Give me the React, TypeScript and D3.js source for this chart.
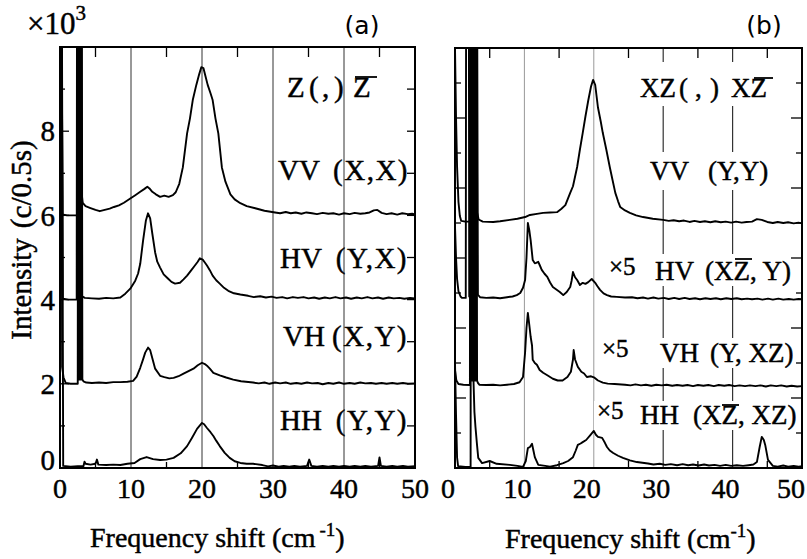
import React from "react";
import * as d3 from "d3";

type Pt = [number, number];

// ---------- panel (a): Z( , )Z̄ geometry, intensity in 10^3 counts per 0.5 s ----------
const xTickValues = [0, 10, 20, 30, 40, 50];
const aYTickLabels = [0, 2, 4, 6, 8];

const aVV: Pt[] = [
  [0.2, 12], [0.35, 6.02], [1.0, 6.0], [2.4, 6.0], [2.45, 12], [2.9, 12], [3.0, 6.6], [3.2, 6.3],
  [3.6, 6.22], [4.2, 6.18], [5.0, 6.13], [5.6, 6.1], [6.3, 6.13], [7.0, 6.16], [7.6, 6.2], [8.3, 6.24],
  [9.0, 6.3], [9.9, 6.4], [10.6, 6.48], [11.3, 6.56], [11.9, 6.63], [12.3, 6.68], [12.6, 6.64],
  [13.0, 6.56], [13.5, 6.5], [14.1, 6.44], [14.7, 6.47], [15.3, 6.44], [15.9, 6.48], [16.3, 6.55],
  [16.8, 6.75], [17.3, 7.14], [17.9, 7.95], [18.3, 8.3], [18.7, 8.74], [19.2, 9.1], [19.6, 9.35],
  [19.9, 9.52], [20.2, 9.5], [20.5, 9.3], [20.8, 9.1], [21.2, 8.9], [21.5, 8.74], [21.9, 8.3],
  [22.3, 7.95], [22.8, 7.14], [23.3, 6.8], [24.0, 6.5], [24.6, 6.38], [25.4, 6.29], [26.3, 6.22],
  [27.5, 6.17], [28.8, 6.11], [30.3, 6.07], [31.0, 6.05], [31.8, 6.08], [32.5, 6.05], [33.2, 6.07],
  [34.0, 6.04], [34.7, 6.07], [35.5, 6.05], [36.2, 6.03], [37.0, 6.06], [37.8, 6.04], [38.5, 6.05],
  [39.3, 6.02], [40.0, 6.05], [40.8, 6.03], [41.5, 6.06], [42.3, 6.04], [43.0, 6.05], [43.6, 6.07],
  [44.2, 6.12], [44.7, 6.13], [45.3, 6.06], [46.0, 6.03], [46.7, 6.05], [47.5, 6.02], [48.2, 6.05],
  [49.0, 6.03], [49.6, 6.04], [50.0, 6.02],
];

const aHV: Pt[] = [
  [0.2, 12], [0.4, 4.02], [1.2, 4.0], [2.35, 4.0], [2.4, 12], [3.0, 12], [3.1, 4.08], [3.5, 4.04],
  [4.5, 4.03], [5.5, 4.02], [6.5, 4.04], [7.5, 4.03], [8.5, 4.05], [9.2, 4.14], [9.9, 4.26],
  [10.6, 4.45], [11.0, 4.62], [11.3, 4.85], [11.7, 5.4], [12.1, 5.88], [12.4, 6.05], [12.7, 5.93],
  [13.0, 5.57], [13.4, 5.12], [13.7, 4.9], [14.1, 4.76], [14.6, 4.6], [15.2, 4.5], [15.7, 4.42],
  [16.2, 4.38], [16.9, 4.4], [17.4, 4.48], [17.9, 4.57], [18.5, 4.7], [19.0, 4.81], [19.4, 4.9],
  [19.7, 4.98], [20.1, 4.95], [20.4, 4.88], [20.7, 4.81], [21.1, 4.7], [21.5, 4.57], [22.0, 4.46],
  [22.5, 4.38], [23.1, 4.28], [23.7, 4.21], [24.5, 4.15], [25.4, 4.12], [26.5, 4.09], [27.3, 4.06],
  [28.2, 4.08], [29.0, 4.05], [29.8, 4.07], [30.5, 4.04], [31.3, 4.06], [32.0, 4.03], [32.8, 4.06],
  [33.5, 4.04], [34.3, 4.06], [35.0, 4.03], [35.8, 4.05], [36.5, 4.02], [37.3, 4.05], [38.0, 4.03],
  [38.8, 4.06], [39.5, 4.03], [40.3, 4.05], [41.0, 4.02], [41.8, 4.05], [42.5, 4.03], [43.3, 4.06],
  [44.0, 4.03], [44.8, 4.05], [45.5, 4.02], [46.3, 4.05], [47.0, 4.03], [47.8, 4.04], [48.5, 4.02],
  [49.3, 4.04], [50.0, 4.03],
];

// the plasma-line group near 2.5-3 cm^-1 is a bundle of narrow lines
const aVH: Pt[] = [
  [0.2, 12], [0.3, 2.4], [0.5, 2.15], [0.8, 2.02], [1.5, 2.0], [2.5, 2.0], [2.55, 13], [2.68, 2.1],
  [2.72, 13], [2.85, 2.1], [2.89, 13], [3.02, 2.1], [3.06, 13], [3.15, 2.1], [3.3, 2.06], [3.7, 2.03],
  [4.5, 2.02], [5.5, 2.03], [6.5, 2.02], [7.5, 2.04], [8.5, 2.04],
  [9.5, 2.05], [10.3, 2.07], [10.8, 2.17], [11.3, 2.38], [11.7, 2.58], [12.0, 2.74], [12.4, 2.86],
  [12.7, 2.8], [12.9, 2.67], [13.4, 2.36], [14.1, 2.19], [14.7, 2.16], [15.4, 2.13], [16.0, 2.14],
  [16.7, 2.18], [17.4, 2.24], [18.1, 2.3], [18.8, 2.36], [19.4, 2.44], [20.0, 2.5], [20.4, 2.47],
  [20.7, 2.43], [21.1, 2.36], [21.6, 2.26], [22.5, 2.2], [23.4, 2.15], [24.4, 2.1], [25.5, 2.06],
  [27.2, 2.03], [28.0, 2.01], [28.8, 2.03], [29.5, 2.0], [30.3, 2.03], [31.0, 2.01], [31.8, 2.03],
  [32.5, 2.0], [33.3, 2.02], [34.0, 2.0], [34.8, 2.03], [35.5, 2.01], [36.3, 2.02], [37.0, 1.99],
  [37.8, 2.02], [38.5, 2.0], [39.3, 2.03], [40.0, 2.0], [40.8, 2.02], [41.5, 2.0], [42.3, 2.03],
  [43.0, 2.01], [43.8, 2.02], [44.5, 2.0], [45.3, 2.02], [46.0, 2.0], [46.8, 2.02], [47.5, 2.0],
  [48.3, 2.02], [49.0, 2.0], [50.0, 2.01],
];

const aHH: Pt[] = [
  [0.25, 12], [0.45, 0.05], [1.5, 0.03], [2.5, 0.04], [3.3, 0.04], [3.45, 0.15], [3.6, 0.1],
  [4.3, 0.08], [5.0, 0.1], [5.2, 0.2], [5.4, 0.08], [6.5, 0.07], [7.5, 0.08], [8.5, 0.07],
  [9.5, 0.1], [10.5, 0.12], [11.3, 0.21], [12.2, 0.26], [13.1, 0.21], [14.1, 0.19], [15.0, 0.2],
  [16.0, 0.24], [17.0, 0.35], [17.9, 0.52], [18.6, 0.72], [19.3, 0.93], [20.0, 1.07], [20.3, 1.04],
  [20.7, 0.95], [21.2, 0.85], [21.6, 0.76], [22.0, 0.65], [22.5, 0.52], [23.2, 0.36], [23.9, 0.24],
  [24.6, 0.16], [25.4, 0.12], [26.3, 0.1], [27.2, 0.1], [28.5, 0.07], [29.3, 0.04], [30.0, 0.06],
  [30.8, 0.03], [31.5, 0.05], [32.3, 0.03], [33.0, 0.05], [33.8, 0.03], [34.8, 0.05], [35.1, 0.2],
  [35.4, 0.05], [36.2, 0.03], [37.0, 0.05], [37.8, 0.03], [38.5, 0.05], [39.3, 0.03], [40.0, 0.05],
  [40.8, 0.03], [41.5, 0.05], [42.3, 0.03], [43.0, 0.05], [43.8, 0.03], [44.8, 0.05], [45.0, 0.25],
  [45.2, 0.05], [46.0, 0.03], [46.8, 0.05], [47.5, 0.03], [48.3, 0.05], [49.0, 0.03], [50.0, 0.04],
];

// ---------- panel (b): XZ( , )XZ̄ geometry, offset traces ----------
const bVV: Pt[] = [
  [0.0, 12], [0.15, 10.0], [0.3, 8.6], [0.5, 7.6], [0.7, 7.2], [0.9, 7.06], [1.5, 7.04], [2.35, 7.04],
  [2.4, 13], [3.1, 13], [3.2, 7.3], [3.4, 7.1], [4.0, 7.04], [5.5, 7.03], [6.5, 7.05], [7.9, 7.09],
  [9.0, 7.12], [10.1, 7.17], [10.8, 7.23], [11.8, 7.26], [12.7, 7.29], [13.7, 7.3], [14.7, 7.31],
  [15.3, 7.4], [15.9, 7.51], [16.6, 7.86], [17.0, 8.05], [17.6, 8.6], [18.0, 9.1], [18.4, 9.57],
  [18.8, 10.05], [19.2, 10.5], [19.6, 10.9], [19.9, 11.09], [20.2, 10.95], [20.6, 10.3], [21.0, 9.9],
  [21.3, 9.57], [21.8, 9.1], [22.3, 8.6], [22.7, 8.23], [23.1, 7.86], [23.5, 7.62], [23.8, 7.46],
  [24.5, 7.36], [25.2, 7.29], [26.1, 7.22], [27.1, 7.17], [28.5, 7.12], [30.0, 7.09], [30.8, 7.06],
  [31.5, 7.08], [32.3, 7.05], [33.0, 7.07], [33.8, 7.03], [34.5, 7.06], [35.3, 7.03], [36.0, 7.05],
  [36.8, 7.02], [37.5, 7.05], [38.3, 7.02], [39.0, 7.04], [39.8, 7.01], [40.5, 7.04], [41.3, 7.01],
  [42.0, 7.03], [42.8, 7.04], [43.5, 7.11], [44.2, 7.09], [45.0, 7.03], [45.8, 7.0], [46.5, 7.03],
  [47.3, 7.0], [48.0, 7.02], [48.8, 6.99], [49.5, 7.01], [50.0, 6.99],
];

const bHV: Pt[] = [
  [0.0, 6.9], [0.15, 6.0], [0.3, 5.4], [0.5, 5.05], [0.8, 4.9], [1.0, 4.86], [1.55, 4.86],
  [1.6, 13], [2.0, 13], [2.05, 4.9], [2.25, 4.9], [2.3, 13], [3.2, 13], [3.3, 4.95], [3.6, 4.88],
  [4.5, 4.86], [5.5, 4.87], [6.5, 4.85], [7.5, 4.88], [8.3, 4.9], [8.9, 4.94], [9.4, 5.0],
  [9.8, 5.15], [10.1, 5.37], [10.3, 6.0], [10.5, 7.0], [10.7, 6.8], [10.9, 6.51], [11.2, 5.94],
  [11.5, 5.85], [11.7, 5.86], [12.0, 5.89], [12.2, 5.8], [12.5, 5.66], [12.9, 5.55], [13.3, 5.46],
  [13.7, 5.3], [14.1, 5.17], [14.6, 5.1], [15.1, 5.03], [15.6, 4.94], [16.1, 5.03], [16.6, 5.17],
  [16.8, 5.35], [17.0, 5.6], [17.3, 5.45], [17.6, 5.37], [18.0, 5.23], [18.4, 5.29], [18.8, 5.26],
  [19.2, 5.31], [19.7, 5.4], [20.2, 5.29], [20.5, 5.2], [20.9, 5.09], [21.4, 4.99], [21.9, 4.94],
  [22.5, 4.9], [23.3, 4.89], [24.5, 4.87], [25.5, 4.88], [26.3, 4.85], [27.1, 4.87], [27.8, 4.84],
  [28.6, 4.87], [29.3, 4.84], [30.1, 4.86], [30.8, 4.83], [31.6, 4.86], [32.3, 4.83], [33.1, 4.86],
  [33.8, 4.83], [34.6, 4.85], [35.3, 4.82], [36.1, 4.85], [36.8, 4.83], [37.6, 4.85], [38.3, 4.82],
  [39.1, 4.85], [39.8, 4.83], [40.6, 4.85], [41.3, 4.82], [42.1, 4.84], [42.8, 4.82], [43.6, 4.84],
  [44.3, 4.81], [45.1, 4.84], [45.8, 4.81], [46.6, 4.84], [47.3, 4.81], [48.1, 4.83], [48.8, 4.81],
  [49.5, 4.83], [50.0, 4.82],
];

const bVH: Pt[] = [
  [0.0, 2.8], [0.2, 2.5], [0.5, 2.4], [1.2, 2.38], [2.15, 2.37], [2.2, 13], [2.33, 2.5], [2.38, 13],
  [2.51, 2.5], [2.56, 13], [2.69, 2.5], [2.74, 13], [2.87, 2.5], [2.92, 13], [3.05, 2.5], [3.1, 13],
  [3.18, 2.5], [3.3, 2.43], [3.5, 2.38], [4.5, 2.37], [5.5, 2.38], [6.5, 2.36], [7.5, 2.38], [8.5, 2.4],
  [9.3, 2.45], [9.8, 2.6], [10.1, 3.3], [10.3, 4.0], [10.5, 4.43], [10.7, 4.1], [10.9, 3.75],
  [11.1, 3.5], [11.2, 3.09], [11.5, 3.0], [11.8, 2.95], [12.2, 2.8], [12.7, 2.72], [13.3, 2.65],
  [14.1, 2.55], [14.8, 2.5], [15.5, 2.5], [16.2, 2.6], [16.7, 2.75], [17.0, 3.1], [17.1, 3.37],
  [17.3, 3.1], [17.7, 2.89], [18.2, 2.75], [18.6, 2.7], [19.0, 2.6], [19.6, 2.62], [20.1, 2.58],
  [20.6, 2.5], [21.3, 2.44], [22.0, 2.41], [23.0, 2.4], [24.5, 2.38], [25.3, 2.36], [26.0, 2.39],
  [26.8, 2.36], [27.5, 2.38], [28.3, 2.35], [29.0, 2.38], [29.8, 2.36], [30.5, 2.38], [31.3, 2.35],
  [32.0, 2.37], [32.8, 2.35], [33.5, 2.37], [34.3, 2.34], [35.0, 2.37], [35.8, 2.35], [36.5, 2.37],
  [37.3, 2.34], [38.0, 2.37], [38.8, 2.35], [39.5, 2.37], [40.3, 2.34], [41.0, 2.36], [41.8, 2.34],
  [42.5, 2.36], [43.3, 2.34], [44.0, 2.36], [44.8, 2.33], [45.5, 2.36], [46.3, 2.34], [47.0, 2.36],
  [47.8, 2.33], [48.5, 2.35], [49.3, 2.33], [50.0, 2.34],
];

const bHH: Pt[] = [
  [0.0, 3.0], [0.15, 1.5], [0.3, 0.3], [0.45, 0.05], [1.5, 0.03], [2.25, 0.03], [2.3, 13],
  [2.6, 13], [2.65, 2.6], [2.8, 1.6], [2.95, 1.17], [3.15, 0.71], [3.35, 0.29], [3.9, 0.14],
  [5.0, 0.2], [6.0, 0.12], [7.9, 0.09], [9.0, 0.06], [9.8, 0.03], [10.2, 0.2], [10.5, 0.57],
  [10.8, 0.6], [11.1, 0.69], [11.3, 0.5], [11.5, 0.31], [12.0, 0.09], [13.0, 0.06], [13.7, 0.04],
  [14.7, 0.08], [15.6, 0.14], [16.3, 0.2], [17.0, 0.31], [17.4, 0.5], [17.7, 0.66], [18.1, 0.7],
  [18.4, 0.74], [18.9, 0.8], [19.5, 0.94], [20.0, 1.06], [20.3, 0.95], [20.6, 0.89], [21.2, 0.86],
  [21.6, 0.72], [21.9, 0.6], [22.3, 0.5], [22.8, 0.43], [23.5, 0.35], [24.2, 0.29], [25.2, 0.22],
  [26.2, 0.17], [27.0, 0.15], [27.8, 0.13], [28.6, 0.1], [29.5, 0.12], [30.3, 0.09], [31.1, 0.11],
  [32.0, 0.08], [32.8, 0.11], [33.6, 0.08], [34.3, 0.1], [35.1, 0.07], [35.9, 0.1], [36.6, 0.07],
  [37.4, 0.09], [38.2, 0.06], [39.0, 0.09], [39.8, 0.06], [40.6, 0.08], [41.5, 0.06], [42.3, 0.08],
  [43.0, 0.1], [43.5, 0.17], [43.9, 0.6], [44.2, 0.89], [44.5, 0.8], [44.7, 0.66], [45.1, 0.23],
  [45.8, 0.06], [46.5, 0.04], [47.3, 0.07], [48.0, 0.04], [48.8, 0.06], [49.5, 0.04], [50.0, 0.05],
];

const W = 807;
const H = 559;
const serif = "'Liberation Serif', 'Times New Roman', serif";
const sans = "'DejaVu Sans', 'Liberation Sans', sans-serif";
// a hairline outline gives the serif text a slightly heavier weight
const ink = { fill: "#000", stroke: "#000", strokeWidth: 0.45 };

const xa = d3.scaleLinear().domain([0, 50]).range([60, 415]);
const ya = d3.scaleLinear().domain([0, 10]).range([468, 47]);
const xb = d3.scaleLinear().domain([0, 50]).range([455, 802]);
const yb = d3.scaleLinear().domain([0, 12]).range([468, 48]);

const gridX = [10, 20, 30, 40];
const minorX = [5, 15, 25, 35, 45];

function Curve({ data, x, y }: { data: Pt[]; x: d3.ScaleLinear<number, number>; y: d3.ScaleLinear<number, number> }) {
  const line = d3.line<Pt>().x((d) => x(d[0])).y((d) => y(d[1]));
  return <path d={line(data) ?? ""} fill="none" stroke="#000" strokeWidth={1.9} strokeLinejoin="round" />;
}

export default function App() {
  const [ax0, ax1] = xa.range();
  const [ay0, ay1] = ya.range();
  const [bx0, bx1] = xb.range();
  const [by0, by1] = yb.range();

  return (
    <svg width={W} height={H} viewBox={`0 0 ${W} ${H}`} style={{ position: "absolute", left: 0, top: 0, background: "#fff" }}>
      <defs>
        <clipPath id="clipA">
          <rect x={ax0} y={ay1} width={ax1 - ax0} height={ay0 - ay1} />
        </clipPath>
        <clipPath id="clipB">
          <rect x={bx0} y={by1} width={bx1 - bx0} height={by0 - by1} />
        </clipPath>
      </defs>
      <rect width={W} height={H} fill="#fff" />

      {/* ===== panel (a) ===== */}
      {gridX.map((v) => (
        <line key={`ga${v}`} x1={xa(v)} x2={xa(v)} y1={ay1} y2={ay0} stroke="#333" strokeWidth={1} />
      ))}
      <g clipPath="url(#clipA)">
        {[aVV, aHV, aVH, aHH].map((s, i) => (
          <Curve key={i} data={s} x={xa} y={ya} />
        ))}
      </g>
      <rect x={ax0} y={ay1} width={ax1 - ax0} height={ay0 - ay1} fill="none" stroke="#000" strokeWidth={2} />
      {minorX.map((v) => (
        <g key={`ta${v}`}>
          <line x1={xa(v)} x2={xa(v)} y1={ay1} y2={ay1 + 10} stroke="#000" strokeWidth={1.3} />
          <line x1={xa(v)} x2={xa(v)} y1={ay0} y2={ay0 - 6} stroke="#000" strokeWidth={1.3} />
        </g>
      ))}
      {d3.range(1, 10).map((v) => (
        <g key={`tya${v}`}>
          <line x1={ax0} x2={ax0 + (v % 2 === 0 ? 9 : 5)} y1={ya(v)} y2={ya(v)} stroke="#000" strokeWidth={1.3} />
          <line x1={ax1} x2={ax1 - 8} y1={ya(v)} y2={ya(v)} stroke="#000" strokeWidth={1.3} />
        </g>
      ))}
      <g fontFamily={serif} {...ink}>
        {aYTickLabels.map((v) => (
          <text key={`la${v}`} x={55} y={ya(v) + (v === 0 ? -8 : 0)} dy="0.35em" textAnchor="end" fontSize={29}>
            {v}
          </text>
        ))}
        {xTickValues.map((v) => (
          <text key={`lxa${v}`} x={xa(v)} y={498} textAnchor="middle" fontSize={28}>
            {v}
          </text>
        ))}
        <text x={27} y={34} fontSize={31}>
          ×10<tspan fontSize={21} dy={-14}>3</tspan>
        </text>
        <text transform="translate(31,240) rotate(-90)" textAnchor="middle" fontSize={29}>
          Intensity<tspan dx={10}>(c/0.5s)</tspan>
        </text>
        <text x={90} y={547} fontSize={28}>
          Frequency shift (cm<tspan fontSize={19} dx={4} dy={-11}>-1</tspan><tspan dy={11}>)</tspan>
        </text>
      </g>
      <text x={362} y={34} textAnchor="middle" fontFamily={sans} fontSize={25}>(a)</text>

      {/* geometry and polarisation labels, panel (a) */}
      <g fontFamily={serif} fontSize={29} {...ink}>
        <text x={287} y={97}>Z</text>
        <text x={309} y={97}>(</text>
        <text x={322} y={97}>,</text>
        <text x={334} y={97}>)</text>
        <text x={353} y={97}>Z</text>
        <line x1={355} x2={377} y1={77} y2={77} stroke="#000" strokeWidth={1.8} />
        <text x={278} y={180}>VV</text>
        <text x={409} y={180} textAnchor="end" letterSpacing={1.5}>(X,X)</text>
        <text x={280} y={268}>HV</text>
        <text x={408} y={268} textAnchor="end" letterSpacing={1.5}>(Y,X)</text>
        <text x={283} y={346}>VH</text>
        <text x={408} y={346} textAnchor="end" letterSpacing={1.5}>(X,Y)</text>
        <text x={280} y={430}>HH</text>
        <text x={408} y={430} textAnchor="end" letterSpacing={1.5}>(Y,Y)</text>
      </g>

      {/* ===== panel (b) ===== */}
      {gridX.map((v) => (
        <line key={`gb${v}`} x1={xb(v)} x2={xb(v)} y1={by1} y2={by0} stroke={v < 25 ? "#999" : "#333"} strokeWidth={v < 25 ? 1 : 1.2} />
      ))}
      <g fill="#fff">
        <rect x={636} y={62} width={141} height={44} />
        <rect x={646} y={152} width={132} height={38} />
        <rect x={604} y={254} width={186} height={32} />
        <rect x={598} y={338} width={192} height={30} />
        <rect x={594} y={401} width={196} height={29} />
      </g>
      <g clipPath="url(#clipB)">
        {[bVV, bHV, bVH, bHH].map((s, i) => (
          <Curve key={i} data={s} x={xb} y={yb} />
        ))}
      </g>
      <rect x={bx0} y={by1} width={bx1 - bx0} height={by0 - by1} fill="none" stroke="#000" strokeWidth={2} />
      {minorX.map((v) => (
        <g key={`tb${v}`}>
          <line x1={xb(v)} x2={xb(v)} y1={by1} y2={by1 + 10} stroke="#000" strokeWidth={1.3} />
          <line x1={xb(v)} x2={xb(v)} y1={by0} y2={by0 - 7} stroke="#000" strokeWidth={1.3} />
        </g>
      ))}
      {d3.range(1, 12).map((v) => (
        <g key={`tyb${v}`}>
          <line x1={bx0} x2={bx0 + (v % 2 === 0 ? 11 : 6)} y1={yb(v)} y2={yb(v)} stroke="#000" strokeWidth={1.3} />
          <line x1={bx1} x2={bx1 - (v % 2 === 0 ? 11 : 6)} y1={yb(v)} y2={yb(v)} stroke="#000" strokeWidth={1.3} />
        </g>
      ))}
      <g fontFamily={serif} {...ink}>
        {xTickValues.map((v) => (
          <text key={`lxb${v}`} x={xb(v) - (v === 50 ? 11 : 7)} y={498} textAnchor="middle" fontSize={28}>
            {v}
          </text>
        ))}
        <text x={505} y={548} fontSize={28}>
          Frequency shift (cm<tspan fontSize={19} dy={-11}>-1</tspan><tspan dy={11}>)</tspan>
        </text>
      </g>
      <text x={764} y={34} textAnchor="middle" fontFamily={sans} fontSize={25}>(b)</text>

      {/* geometry and polarisation labels, panel (b) */}
      <g fontFamily={serif} fontSize={27} {...ink}>
        <text x={640} y={97}>XZ</text>
        <text x={679} y={97}>(</text>
        <text x={695} y={97}>,</text>
        <text x={710} y={97}>)</text>
        <text x={731} y={97}>XZ</text>
        <line x1={754} x2={773} y1={78} y2={78} stroke="#000" strokeWidth={1.8} />

        <text x={650} y={180}>VV</text>
        <text x={708} y={180}>(Y,Y)</text>

        <text x={609} y={275} fontSize={25}>×5</text>
        <text x={655} y={280}>HV</text>
        <text x={705} y={280}>(XZ, Y)</text>
        <line x1={735} x2={752} y1={259} y2={259} stroke="#000" strokeWidth={1.8} />

        <text x={602} y={357} fontSize={25}>×5</text>
        <text x={660} y={362}>VH</text>
        <text x={710} y={362}>(Y, XZ)</text>

        <text x={597} y={419} fontSize={25}>×5</text>
        <text x={640} y={424}>HH</text>
        <text x={693} y={424}>(XZ, XZ)</text>
        <line x1={722} x2={739} y1={405} y2={405} stroke="#000" strokeWidth={1.8} />
      </g>
    </svg>
  );
}
